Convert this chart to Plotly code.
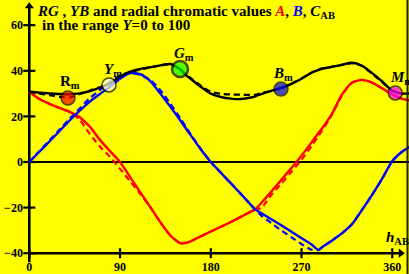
import plotly.graph_objects as go

# ---- data (hue angle h_AB in degrees) ----
h = [0, 10, 20, 30, 40, 50, 60, 70, 80, 90, 100, 110, 120, 130, 140, 150, 155, 160, 170, 180,
     190, 200, 210, 220, 224, 230, 240, 250, 260, 270, 280, 287, 290, 300, 310, 320, 330, 340,
     350, 360, 370, 377]

c_ab = [30.8, 30.4, 30.1, 29.8, 29.7, 30.1, 31.1, 32.6, 34.5, 37.4, 39.6, 40.8, 41.6, 42.4, 43.0,
        40.5, 38.2, 36.5, 33.0, 30.0, 28.5, 27.8, 27.6, 28.3, 28.8, 29.8, 31.2, 32.5, 34.3, 36.5,
        39.2, 40.4, 40.9, 41.7, 42.6, 43.5, 42.2, 39.0, 35.3, 31.3, 30.0, 30.1]

a_val = [30.8, 27.6, 25.5, 23.7, 22.0, 19.6, 15.5, 9.7, 4.8, 0.0, -6.6, -13.2, -19.8, -26.4, -32.3,
         -35.7, -35.5, -34.8, -32.6, -30.5, -28.4, -26.3, -24.0, -21.7, -20.8, -18.0, -13.0, -7.8,
         -2.6, 2.8, 8.6, 12.8, 14.5, 21.0, 29.5, 34.8, 36.0, 34.8, 32.3, 29.6, 27.7, 27.0]

b_val = [0.0, 4.5, 9.0, 13.6, 18.2, 22.5, 26.5, 29.8, 33.0, 36.5, 39.0, 38.5, 35.5, 30.0, 24.2,
         18.1, 14.9, 11.8, 5.6, 0.0, -4.7, -9.4, -14.1, -18.9, -20.8, -22.4, -25.1, -27.8, -30.6,
         -33.4, -36.2, -38.6, -37.5, -34.5, -31.3, -27.3, -21.0, -14.4, -7.3, 0.4, 4.6, 6.6]

# dashed approximations
c_dash = [30.8, 30.0, 29.3, 28.6, 28.3, 29.8, 31.3, 32.8, 34.4, 37.2, 39.3, 40.6, 41.5, 42.3, 42.8,
          40.6, 38.5, 36.8, 33.5, 30.8, 29.9, 29.6, 29.5, 29.4, 29.5, 30.2, 31.2, 32.3, 34.3, 36.6,
          39.2, 40.4, 40.9, 41.7, 42.6, 43.4, 42.1, 38.8, 35.0, 31.2, 30.0, 30.1]

a_dash = [30.8, 27.6, 25.5, 23.7, 22.0, 18.5, 12.3, 6.8, 2.2, -3.0, -8.5, -14.0, -19.8, -26.4, -32.3,
          -35.7, -35.5, -34.8, -32.6, -30.5, -28.4, -26.3, -24.0, -21.7, -20.9, -20.2, -14.5, -9.5,
          -4.3, 1.0, 7.0, 11.6, 13.5, 20.5, 29.2, 34.8, 36.0, 34.8, 32.3, 29.6, 27.7, 27.0]

b_dash = [0.0, 4.8, 9.5, 14.2, 19.0, 23.5, 28.0, 31.5, 35.0, 38.0, 39.2, 38.2, 36.0, 31.5, 25.5,
          19.0, 15.6, 12.2, 5.8, 0.0, -4.7, -9.4, -14.1, -18.9, -20.8, -23.5, -26.8, -30.0, -33.0,
          -36.0, -38.5, -38.6, -37.5, -34.5, -31.3, -27.3, -21.0, -14.4, -7.3, 0.4, 4.6, 6.6]

mark_names = ["R", "Y", "G", "B", "M"]
mark_h = [38.4, 79.1, 149.5, 249.6, 363.0]
mark_v = [28.1, 33.8, 40.8, 32.0, 30.3]
mark_colors = ["#ff0000", "#ffffe6", "#00ff00", "#0000ff", "#ff00ff"]
mark_sizes = [14, 14, 16, 14, 14]
mark_lw = [1.5, 1.5, 2.5, 1.5, 1.5]
label_h = [40.4, 83.1, 153.4, 251.6, 369.6]
label_v = [35.3, 40.2, 47.4, 38.4, 37.0]
label_italic = [False, True, True, True, True]

x_ticks = [0, 90, 180, 270, 360]
x_ticktext = ["0", "90", "180", "270", "360"]
y_ticks = [-40, -20, 0, 20, 40, 60]
y_ticktext = ["\u221240", "\u221220", "0", "20", "40", "60"]

X_RANGE = [-29.06, 376.6]
Y_RANGE = [-49.12, 71.05]

fig = go.Figure()

# axis frame lines (data coordinates)
fig.add_trace(go.Scatter(x=[0, 369], y=[-40, -40], mode="lines",
                         line=dict(color="black", width=2.6), hoverinfo="skip", showlegend=False))
fig.add_trace(go.Scatter(x=[0, 0], y=[-44, 69], mode="lines",
                         line=dict(color="black", width=2.6), hoverinfo="skip", showlegend=False))
fig.add_trace(go.Scatter(x=[0, 377], y=[0, 0], mode="lines",
                         line=dict(color="black", width=2.2), hoverinfo="skip", showlegend=False))
# ticks
tx, ty = [], []
for t in x_ticks:
    tx += [t, t, None]
    ty += [-42.2, -37.8, None]
for t in y_ticks:
    tx += [-6, 6, None]
    ty += [t, t, None]
fig.add_trace(go.Scatter(x=tx, y=ty, mode="lines", line=dict(color="black", width=2.2),
                         hoverinfo="skip", showlegend=False))
# arrow heads
fig.add_trace(go.Scatter(x=[368.5], y=[-40], mode="markers",
                         marker=dict(symbol="triangle-right", size=8, color="black"),
                         hoverinfo="skip", showlegend=False))
fig.add_trace(go.Scatter(x=[0], y=[68.3], mode="markers",
                         marker=dict(symbol="triangle-up", size=8, color="black"),
                         hoverinfo="skip", showlegend=False))

# curves
def line_trace(y, color, dash=None, width=2.4):
    return go.Scatter(x=h, y=y, mode="lines",
                      line=dict(color=color, width=width, dash=dash, shape="spline", smoothing=0.6),
                      hoverinfo="skip", showlegend=False)

fig.add_trace(line_trace(a_dash, "#ff0000", dash="6px,4px", width=2.2))
fig.add_trace(line_trace(b_dash, "#0000ff", dash="6px,4px", width=2.2))
fig.add_trace(line_trace(c_dash, "black", dash="6px,4px", width=2.2))
fig.add_trace(line_trace(a_val, "#ff0000"))
fig.add_trace(line_trace(b_val, "#0000ff"))
fig.add_trace(line_trace(c_ab, "black"))

# markers
fig.add_trace(go.Scatter(x=mark_h, y=mark_v, mode="markers",
                         marker=dict(size=mark_sizes, color=mark_colors,
                                     line=dict(color="black", width=mark_lw)),
                         hoverinfo="skip", showlegend=False))

serif = "Liberation Serif"
for n, lh, lv, it in zip(mark_names, label_h, label_v, label_italic):
    txt = (f"<i>{n}</i>" if it else n) + "<sub>m</sub>"
    fig.add_annotation(x=lh, y=lv, xref="x", yref="y", text=f"<b>{txt}</b>", showarrow=False,
                       font=dict(family=serif, size=15, color="black"), xanchor="center", yanchor="middle")

fig.add_annotation(x=365, y=-33.5, xref="x", yref="y", text="<b><i>h</i><sub>AB</sub></b>", showarrow=False,
                   font=dict(family=serif, size=15, color="black"), xanchor="center", yanchor="middle")

title1 = ("<b><i>RG</i> , <i>YB</i> and radial chromatic values "
          "<span style='color:#ff0000'><i>A</i></span>, "
          "<span style='color:#0000ff'><i>B</i></span>, <i>C</i><sub>AB</sub></b>")
title2 = "<b>in the range <i>Y</i>=0 to 100</b>"
fig.add_annotation(x=35 / 409, y=1 - 1 / 274, xref="paper", yref="paper", text=title1, showarrow=False,
                   font=dict(family=serif, size=15, color="black"), xanchor="left", yanchor="top")
fig.add_annotation(x=40 / 409, y=1 - 15 / 274, xref="paper", yref="paper", text=title2, showarrow=False,
                   font=dict(family=serif, size=15, color="black"), xanchor="left", yanchor="top")

# right border
fig.add_shape(type="line", xref="paper", yref="paper", x0=407.5 / 409, x1=407.5 / 409, y0=0, y1=1,
              line=dict(color="#222200", width=2))

fig.update_layout(
    width=409, height=274,
    margin=dict(l=0, r=0, t=0, b=0, autoexpand=False),
    paper_bgcolor="#ffff00", plot_bgcolor="#ffff00",
    hovermode=False,
    xaxis=dict(range=X_RANGE, domain=[0, 1], showgrid=False, zeroline=False, showline=False,
               tickvals=x_ticks, ticktext=x_ticktext, ticks="outside", ticklen=2,
               tickcolor="rgba(0,0,0,0)", anchor="free", position=20.7 / 274, automargin=False,
               tickfont=dict(family=serif, size=12, color="black", weight="bold")),
    yaxis=dict(range=Y_RANGE, domain=[0, 1], showgrid=False, zeroline=False, showline=False,
               tickvals=y_ticks, ticktext=y_ticktext, ticks="outside", ticklen=4,
               tickcolor="rgba(0,0,0,0)", anchor="free", position=29.3 / 409, automargin=False,
               tickfont=dict(family=serif, size=12, color="black", weight="bold")),
)

fig.write_html("out.html", config={"displayModeBar": False, "staticPlot": True},
               post_script="document.body.style.margin='0px';document.body.style.padding='0px';"
                           "document.body.style.overflow='hidden';")
